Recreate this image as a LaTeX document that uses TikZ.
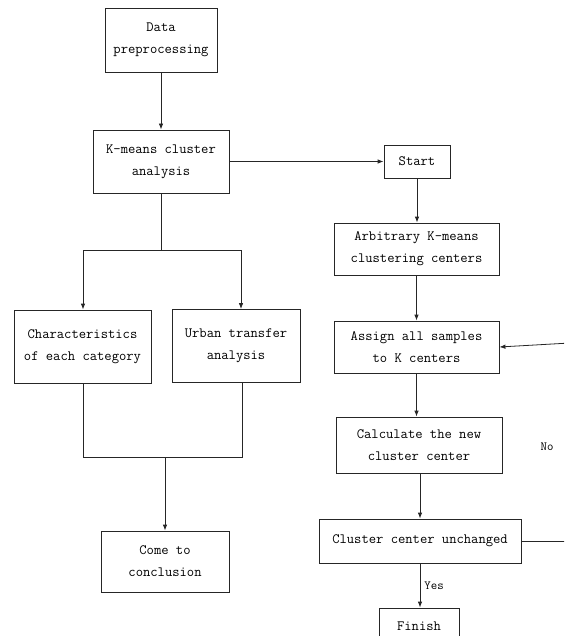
\documentclass[tikz,border=0pt]{standalone}
\usetikzlibrary{arrows.meta}
\begin{document}
\begin{tikzpicture}[x=1pt,y=-1pt,
  box/.style={draw=black!85,line width=0.8pt,align=center,inner sep=0pt,
    font=\fontsize{14.2}{22}\selectfont\ttfamily},
  conn/.style={draw=black!85,line width=0.8pt},
  arr/.style={conn,-{Latex[length=6pt,width=4.5pt]}},
  lbl/.style={font=\fontsize{12.5}{14}\selectfont\ttfamily,inner sep=0pt}]
\useasboundingbox (0,0) rectangle (564,636);
\clip (0,0) rectangle (564,636);
% left column
\node[box,minimum width=112pt,minimum height=64pt] (dp) at (161,40) {Data\\preprocessing};
\node[box,minimum width=136pt,minimum height=63pt] (km) at (161,161.5) {K-means cluster\\analysis};
\node[box,minimum width=137pt,minimum height=73pt] (ch) at (82.5,346.5) {Characteristics\\of each category};
\node[box,minimum width=128pt,minimum height=73pt] (ua) at (236,346) {Urban transfer\\analysis};
\node[box,minimum width=128pt,minimum height=61pt] (cc) at (165,561.5) {Come to\\conclusion};
% right column
\node[box,minimum width=66pt,minimum height=33pt] (st) at (417,161.5) {Start};
\node[box,minimum width=165pt,minimum height=52pt] (ar) at (416.5,249) {Arbitrary K-means\\clustering centers};
\node[box,minimum width=165pt,minimum height=52pt] (as) at (416.5,347) {Assign all samples\\to K centers};
\node[box,minimum width=166pt,minimum height=56pt] (ca) at (419,445) {Calculate the new\\cluster center};
\node[box,minimum width=202pt,minimum height=44pt] (cu) at (420,541) {Cluster center unchanged};
\node[box,minimum width=80pt,minimum height=36pt] (fi) at (419,626) {Finish};
% junction coordinates
\coordinate (jl) at (83,250);
\coordinate (jr) at (241,250);
\coordinate (ml) at (83,457);
\coordinate (mr) at (242,457);
\coordinate (fbR) at (570,541);
\coordinate (fbT) at (570,343);
% connectors left
\draw[arr] (dp.south) -- (km.north);
\draw[conn] (km.south) -- (km.south |- jl);
\draw[conn] (jl) -- (jr);
\draw[arr] (jl) -- (jl |- ch.north);
\draw[arr] (jr) -- (jr |- ua.north);
\draw[conn] (ml |- ch.south) -- (ml) -- (mr) -- (mr |- ua.south);
\draw[arr] (cc.north |- ml) -- (cc.north);
% connectors right
\draw[arr] (km.east) -- (st.west);
\draw[arr] (st.south) -- (st.south |- ar.north);
\draw[arr] (ar.south) -- (as.north);
\draw[arr] (as.south) -- (as.south |- ca.north);
\draw[arr] (cu.north |- ca.south) -- (cu.north);
\draw[arr] (cu.south) -- node[lbl,right=4pt,pos=0.5] (yes) {Yes} (cu.south |- fi.north);
\draw[conn] (cu.east) -- (fbR) -- (fbT);
\draw[arr] (fbT) -- (as.east);
\node[lbl] (no) at (547,447) {No};
\end{tikzpicture}
\end{document}
